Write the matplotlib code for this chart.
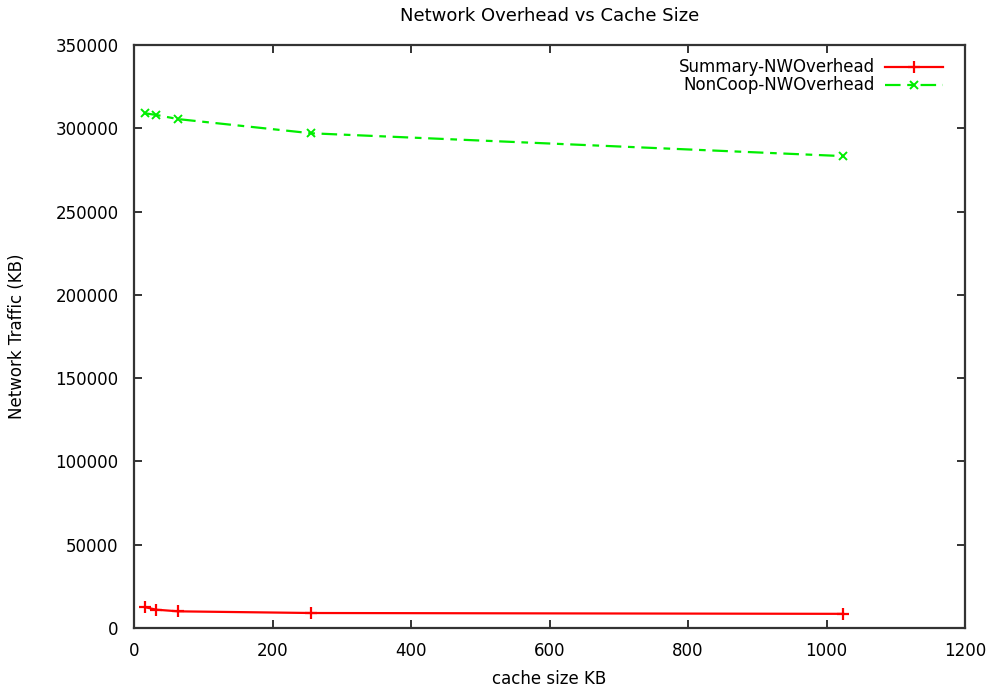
import matplotlib
matplotlib.use("Agg")
import matplotlib.pyplot as plt

cache_kb = [16, 32, 64, 256, 1024]
summary_overhead = [12500, 11000, 10000, 9000, 8500]
noncoop_overhead = [309000, 308000, 305500, 297000, 283300]

plt.rcParams['font.family'] = ['DejaVu Sans']
plt.rcParams['font.size'] = 12

fig = plt.figure(figsize=(9.9, 6.88), dpi=100)
# plot area: x 134..965 px, y 45..628 px
ax = fig.add_axes([134 / 990, 1 - 628 / 688, 831 / 990, 583 / 688])

ax.plot(cache_kb, summary_overhead, color='#ff0000', linestyle='-', marker='+',
        markersize=9, markeredgewidth=1.6, linewidth=1.6, label='Summary-NWOverhead')
ax.plot(cache_kb, noncoop_overhead, color='#00ee00', linestyle=(0, (7, 3, 3, 3)), marker='x',
        markersize=6, markeredgewidth=1.4, linewidth=1.6, label='NonCoop-NWOverhead')

ax.set_xlim(0, 1200)
ax.set_ylim(0, 350000)
ax.set_xticks(range(0, 1201, 200))
ax.set_yticks(range(0, 350001, 50000))
ax.tick_params(direction='in', top=True, right=True, length=6, width=1.4, color='#333333')
ax.tick_params(axis='x', pad=10)
ax.tick_params(axis='y', pad=11)
for s in ax.spines.values():
    s.set_color('#333333')
    s.set_linewidth(1.6)

ax.set_title('Network Overhead vs Cache Size', fontsize=13, pad=17)
ax.set_xlabel('cache size KB', labelpad=7)
ax.set_ylabel('Network Traffic (KB)', labelpad=21)

leg = ax.legend(loc='upper right', bbox_to_anchor=(0.9735, 0.977), frameon=False,
                markerfirst=False, handlelength=3.5, borderaxespad=0, borderpad=0,
                labelspacing=0.0, handletextpad=0.6)

fig.savefig('out.png', dpi=100)
